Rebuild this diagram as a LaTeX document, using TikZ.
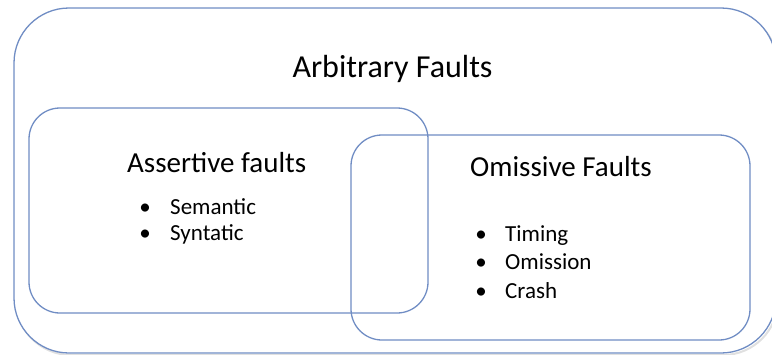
\documentclass[tikz,border=0pt]{standalone}
\usepackage{fontspec}
\setmainfont{Carlito}
\begin{document}
\begin{tikzpicture}[x=1pt,y=-1pt,
  frame/.style={draw=framecol, line width=1.3pt},
  shade/.style={draw=black!12, line width=2pt},
  title/.style={font=\fontsize{32}{34}\selectfont, anchor=base, inner sep=0pt},
  heading/.style={font=\fontsize{29}{31}\selectfont, anchor=base west, inner sep=0pt},
  item/.style={font=\fontsize{23}{25}\selectfont, anchor=base west, inner sep=0pt},
  dot/.style={font=\fontsize{23}{25}\selectfont, anchor=base, inner sep=0pt}]
\definecolor{framecol}{RGB}{112,141,196}
\useasboundingbox (0,0) rectangle (772,354);
% soft drop shadows
\draw[shade] (16,11) [rounded corners=55pt] rectangle (778,355);
\draw[shade] (31,110) [rounded corners=31pt] rectangle (430,315);
\draw[shade] (353,137) [rounded corners=31pt] rectangle (752,342);
% outer set: arbitrary faults
\draw[frame, rounded corners=55pt, fill=white] (14,8) rectangle (776,353);
% assertive and omissive subsets
\draw[frame, rounded corners=31pt] (29,108) rectangle (428,313);
\draw[frame, rounded corners=31pt] (351,135) rectangle (750,340);
% labels
\node[title] (arb) at (392.5,77) {Arbitrary Faults};
\node[heading] (ass) at (127,172) {Assertive faults};
\node[heading] (omi) at (470,176) {Omissive Faults};
% assertive items
\node[dot] (b1) at (145,214) {•};
\node[item] (sem) at (170,214) {Semantic};
\node[dot] (b2) at (145,240) {•};
\node[item] (syn) at (170,240) {Syntatic};
% omissive items
\node[dot] (b3) at (481,241) {•};
\node[item] (tim) at (505,241) {Timing};
\node[dot] (b4) at (481,269) {•};
\node[item] (oms) at (505,269) {Omission};
\node[dot] (b5) at (481,298) {•};
\node[item] (cra) at (505,298) {Crash};
\end{tikzpicture}
\end{document}
